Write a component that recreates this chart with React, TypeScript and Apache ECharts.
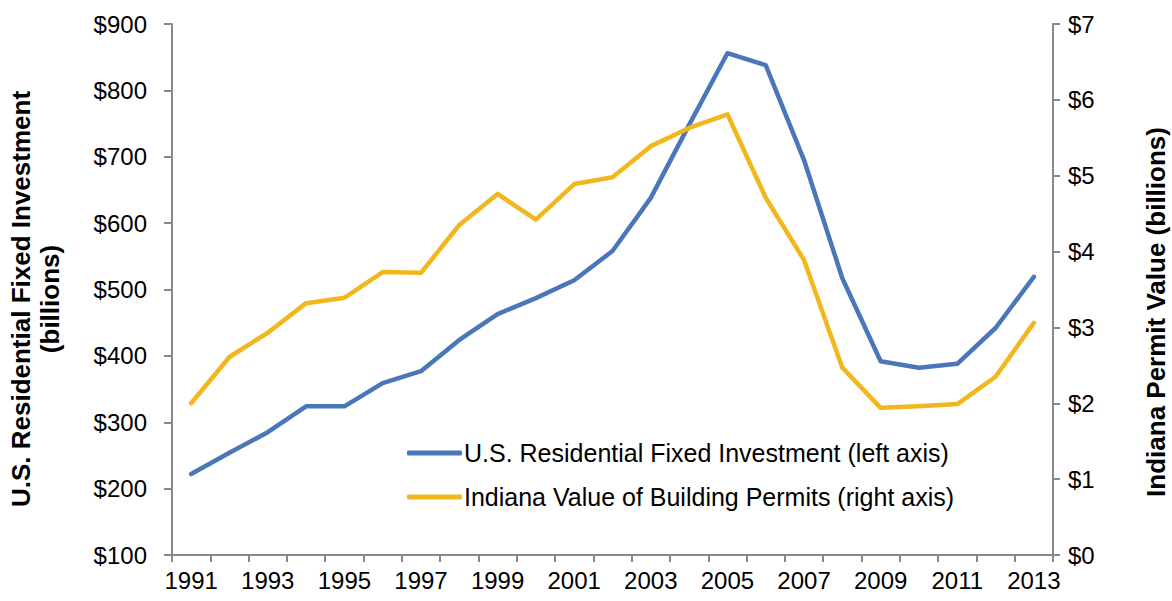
import React, { useEffect, useRef } from "react";
import * as echarts from "echarts";

const years = [
  "1991", "1992", "1993", "1994", "1995", "1996", "1997", "1998", "1999", "2000",
  "2001", "2002", "2003", "2004", "2005", "2006", "2007", "2008", "2009", "2010",
  "2011", "2012", "2013",
];
const usResidential = [
  222, 254, 285, 324, 324, 359, 377, 424, 463, 487,
  514, 558, 638, 748, 856, 838, 695, 517, 392, 382,
  388, 442, 519,
];
const indianaPermits = [
  2.0, 2.61, 2.93, 3.32, 3.39, 3.73, 3.72, 4.35, 4.76, 4.42,
  4.89, 4.98, 5.39, 5.63, 5.81, 4.71, 3.89, 2.47, 1.94, 1.96,
  1.99, 2.35, 3.06,
];
const seriesNames = [
  "U.S. Residential Fixed Investment (left axis)",
  "Indiana Value of Building Permits (right axis)",
];
const leftTitle = ["U.S. Residential Fixed Investment", "(billions)"];
const rightTitle = "Indiana Permit Value (billions)";

const FONT = "'Liberation Sans', Arial, sans-serif";
const BLUE = "#4a77b9";
const GOLD = "#f2b71d";
const AXIS = "#898989";

export default function App() {
  const ref = useRef<HTMLDivElement>(null);
  useEffect(() => {
    document.body.style.margin = "0";
    const chart = echarts.init(ref.current!, null, { renderer: "svg" });
    chart.setOption({
      animation: false,
      backgroundColor: "#ffffff",
      textStyle: { fontFamily: FONT },
      grid: { left: 172, right: 119, top: 24, bottom: 46, containLabel: false },
      legend: {
        orient: "vertical",
        left: 402,
        top: 434,
        icon: "roundRect",
        itemWidth: 55,
        itemHeight: 5,
        itemGap: 16,
        textStyle: { fontSize: 25, color: "#000", fontFamily: FONT, padding: [0, 0, 0, -3], lineHeight: 28 },
        data: seriesNames,
      },
      xAxis: {
        type: "category",
        data: years,
        boundaryGap: true,
        axisLine: { lineStyle: { color: AXIS, width: 2 } },
        axisTick: { show: true, length: 7, lineStyle: { color: AXIS, width: 2 }, alignWithLabel: false, interval: 0 },
        axisLabel: { interval: 1, fontSize: 24, color: "#000", margin: 13, fontFamily: FONT },
        splitLine: { show: false },
      },
      yAxis: [
        {
          type: "value",
          min: 100,
          max: 900,
          interval: 100,
          position: "left",
          axisLine: { show: true, lineStyle: { color: AXIS, width: 2 } },
          axisTick: { show: true, length: 8, lineStyle: { color: AXIS, width: 2 } },
          axisLabel: { formatter: "${value}", fontSize: 24, color: "#000", margin: 25, fontFamily: FONT },
          splitLine: { show: false },
        },
        {
          type: "value",
          min: 0,
          max: 7,
          interval: 1,
          position: "right",
          axisLine: { show: true, lineStyle: { color: AXIS, width: 2 } },
          axisTick: { show: true, length: 7, lineStyle: { color: AXIS, width: 2 } },
          axisLabel: { formatter: "${value}", fontSize: 24, color: "#000", margin: 15, fontFamily: FONT },
          splitLine: { show: false },
        },
      ],
      series: [
        {
          name: seriesNames[0],
          type: "line",
          yAxisIndex: 0,
          data: usResidential,
          symbol: "none",
          lineStyle: { color: BLUE, width: 4.5, cap: "round", join: "round" },
          itemStyle: { color: BLUE },
        },
        {
          name: seriesNames[1],
          type: "line",
          yAxisIndex: 1,
          data: indianaPermits,
          symbol: "none",
          lineStyle: { color: GOLD, width: 4.5, cap: "round", join: "round" },
          itemStyle: { color: GOLD },
        },
      ],
      graphic: [
        {
          type: "text",
          x: 21,
          y: 299,
          rotation: Math.PI / 2,
          style: {
            text: leftTitle[0],
            font: `bold 26px ${FONT}`,
            fill: "#000",
            align: "center",
            verticalAlign: "middle",
          },
        },
        {
          type: "text",
          x: 50,
          y: 299,
          rotation: Math.PI / 2,
          style: {
            text: leftTitle[1],
            font: `bold 26px ${FONT}`,
            fill: "#000",
            align: "center",
            verticalAlign: "middle",
          },
        },
        {
          type: "text",
          x: 1156,
          y: 312,
          rotation: Math.PI / 2,
          style: {
            text: rightTitle,
            font: `bold 26px ${FONT}`,
            fill: "#000",
            align: "center",
            verticalAlign: "middle",
          },
        },
      ],
    });
    return () => chart.dispose();
  }, []);
  return <div ref={ref} style={{ width: 1172, height: 601 }} />;
}
